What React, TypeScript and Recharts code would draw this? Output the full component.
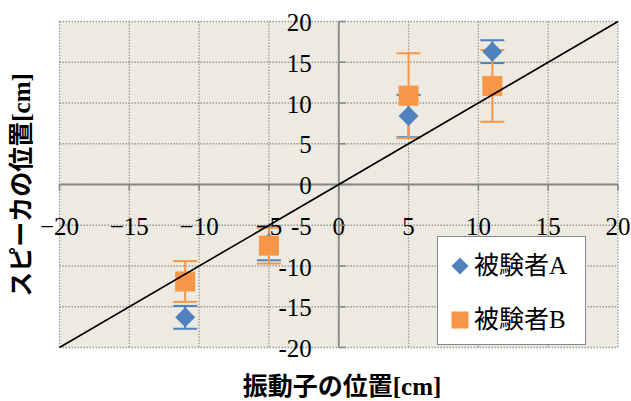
import React from 'react';
import { ScatterChart, Scatter, XAxis, YAxis, CartesianGrid, ErrorBar, ReferenceLine, Legend } from 'recharts';

const xTicks = [-20, -15, -10, -5, 0, 5, 10, 15, 20];
const yTicks = [-20, -15, -10, -5, 0, 5, 10, 15, 20];

const seriesA = [
  { x: -11, y: -16.3, err: 1.4 },
  { x: -5, y: -7.2, err: 2.1 },
  { x: 5, y: 8.4, err: 2.6 },
  { x: 11, y: 16.3, err: 1.4 },
];
const seriesB = [
  { x: -11, y: -11.9, err: 2.5 },
  { x: -5, y: -7.5, err: 2.2 },
  { x: 5, y: 10.9, err: 5.2 },
  { x: 11, y: 12.1, err: 4.4 },
];
const diagonal = [
  { x: -20, y: -20 },
  { x: 20, y: 20 },
];
const seriesNames = ['被験者A', '被験者B'];
const xTitle = '振動子の位置[cm]';
const yTitle = 'スピーカの位置[cm]';

const BLUE = '#4F81BD';
const ORANGE = '#F79646';
const AXIS = '#878787';
const FONT = "'Liberation Serif', 'Noto Sans CJK JP', serif";

const xTickData = xTicks.map((t) => ({ x: t, y: 0 }));
const yTickData = yTicks.map((t) => ({ x: 0, y: t }));

const Empty = () => <g />;

const Diamond = (p: any) => {
  const { cx, cy } = p;
  const r = 10;
  return <polygon points={`${cx},${cy - r} ${cx + r},${cy} ${cx},${cy + r} ${cx - r},${cy}`} fill={BLUE} />;
};
const Square = (p: any) => {
  const { cx, cy } = p;
  return <rect x={cx - 10} y={cy - 10} width={20} height={20} fill={ORANGE} />;
};

const XTick = (p: any) => {
  const v = p.payload.x;
  const label = v < 0 ? `\u2212${Math.abs(v)}` : `${v}`;
  return (
    <g>
      <line x1={p.cx} y1={p.cy} x2={p.cx} y2={p.cy + 6} stroke={AXIS} strokeWidth={1.5} />
      <text x={p.cx} y={p.cy + 42} textAnchor="middle" dominantBaseline="central" fontFamily={FONT} fontSize={25} fill="#000">
        {label}
      </text>
    </g>
  );
};
const YTick = (p: any) => {
  const v = p.payload.y;
  return (
    <g>
      <line x1={p.cx} y1={p.cy} x2={p.cx + 7} y2={p.cy} stroke={AXIS} strokeWidth={1.5} />
      <text x={p.cx - 27} y={p.cy + 1} textAnchor="end" dominantBaseline="central" fontFamily={FONT} fontSize={25} fill="#000">
        {`${v}`}
      </text>
    </g>
  );
};

const LegendBox = () => (
  <div
    style={{
      position: 'absolute',
      left: 437,
      top: 236,
      width: 149,
      height: 109,
      boxSizing: 'border-box',
      background: '#fff',
      border: `1.5px solid ${AXIS}`,
      fontFamily: FONT,
      fontSize: 25,
      color: '#000',
    }}
  >
    <div style={{ position: 'absolute', left: 13, top: 14, height: 30, display: 'flex', alignItems: 'center' }}>
      <svg width={18} height={18} style={{ marginRight: 5 }}>
        <polygon points="9,0.5 17.5,9 9,17.5 0.5,9" fill={BLUE} />
      </svg>
      <span style={{ lineHeight: '30px' }}>{seriesNames[0]}</span>
    </div>
    <div style={{ position: 'absolute', left: 13, top: 68, height: 30, display: 'flex', alignItems: 'center' }}>
      <svg width={18} height={18} style={{ marginRight: 5 }}>
        <rect x={0.5} y={0.5} width={17} height={17} fill={ORANGE} />
      </svg>
      <span style={{ lineHeight: '30px' }}>{seriesNames[1]}</span>
    </div>
  </div>
);

export default function App() {
  return (
    <div style={{ position: 'absolute', left: 0, top: 0, width: 631, height: 401, background: '#fff' }}>
      <ScatterChart width={631} height={401} margin={{ top: 21.5, right: 13, bottom: 53.5, left: 59.5 }}>
        <CartesianGrid
          fill="#ECEAE1"
          stroke="#9a9a9a"
          strokeDasharray="1.5 1.5"
          strokeWidth={1.3}
          horizontalValues={yTicks}
          verticalValues={xTicks}
        />
        <XAxis type="number" dataKey="x" domain={[-20, 20]} ticks={xTicks} hide />
        <YAxis type="number" dataKey="y" domain={[-20, 20]} ticks={yTicks} hide />
        <ReferenceLine x={0} stroke={AXIS} strokeWidth={1.8} />
        <ReferenceLine y={0} stroke={AXIS} strokeWidth={1.8} />
        <Scatter data={xTickData} shape={XTick} isAnimationActive={false} legendType="none" />
        <Scatter data={yTickData} shape={YTick} isAnimationActive={false} legendType="none" />
        <Scatter data={seriesA} shape={Empty} isAnimationActive={false} legendType="none">
          <ErrorBar dataKey="err" direction="y" width={12} stroke={BLUE} strokeWidth={2} isAnimationActive={false} />
        </Scatter>
        <Scatter data={seriesB} shape={Empty} isAnimationActive={false} legendType="none">
          <ErrorBar dataKey="err" direction="y" width={12} stroke={ORANGE} strokeWidth={2} isAnimationActive={false} />
        </Scatter>
        <Scatter name={seriesNames[0]} data={seriesA} shape={Diamond} isAnimationActive={false} />
        <Scatter name={seriesNames[1]} data={seriesB} shape={Square} isAnimationActive={false} />
        <Scatter data={diagonal} shape={Empty} line={{ stroke: '#000', strokeWidth: 1.6 }} isAnimationActive={false} legendType="none" />
        <Legend content={() => <LegendBox />} wrapperStyle={{ position: 'absolute', left: 0, top: 0, width: 0, height: 0 }} />
        <text
          x={342}
          y={386}
          textAnchor="middle"
          dominantBaseline="central"
          fontFamily={FONT}
          fontWeight="bold"
          fontSize={25}
          fill="#000"
        >
          {xTitle}
        </text>
        <text
          x={21}
          y={185}
          textAnchor="middle"
          dominantBaseline="central"
          fontFamily={FONT}
          fontWeight="bold"
          fontSize={25}
          fill="#000"
          transform="rotate(-90 21 185)"
        >
          {yTitle}
        </text>
      </ScatterChart>
    </div>
  );
}
